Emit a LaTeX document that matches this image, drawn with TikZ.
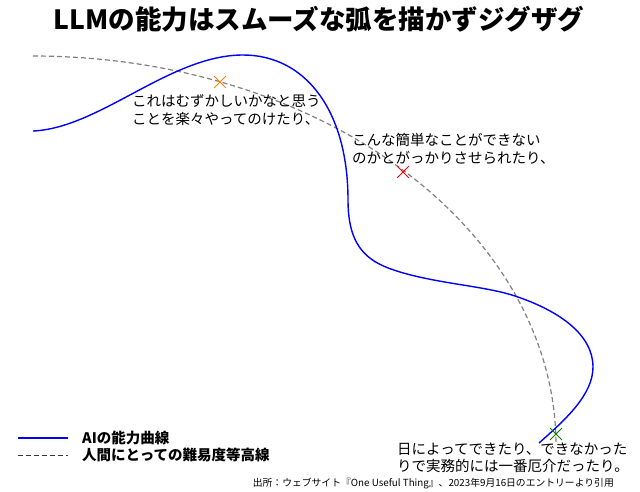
\documentclass[tikz,border=0pt]{standalone}
\usepackage{fontspec}
\setmainfont{Noto Sans CJK JP}
\usetikzlibrary{positioning,shapes.misc}

\begin{document}
\begin{tikzpicture}[
    x=1pt, y=-1pt,
    note/.style={anchor=west, align=left, inner sep=0pt,
      font=\fontsize{14.5}{17.5}\selectfont},
    legendtext/.style={anchor=west, inner sep=0pt,
      font=\fontsize{14.5}{17.5}\selectfont\bfseries},
    crossmark/.style={draw, cross out, minimum size=11pt, inner sep=0pt, line width=0.8pt},
    ai/.style={draw=blue, line width=1.4pt},
    level/.style={draw=gray, line width=1.2pt, dash pattern=on 5pt off 3pt}
  ]
    \useasboundingbox (0,0) rectangle (640,491);

    \node[font=\fontsize{26.5}{30}\selectfont\bfseries] (title) at (319,19)
      {LLMの能力はスムーズな弧を描かずジグザグ};

    \draw[level] plot[domain=90:0, samples=80]
      ({33+523*cos(\x)}, {445-389*sin(\x)});

    \draw[ai] (33,131) .. controls (100,128) and (170,55) .. (243,55)
      .. controls (305,55) and (348,110) .. (348,200)
      .. controls (348,250) and (370,263) .. (400,272)
      .. controls (440,284) and (485,286) .. (515,296)
      .. controls (560,311) and (593,335) .. (593,367)
      .. controls (593,395) and (565,420) .. (539,443);

    \node[crossmark, draw=orange] (easy) at (220,82) {};
    \node[crossmark, draw=red] (hard) at (403,172) {};
    \node[crossmark, draw=green!50!black] (luck) at (556,434) {};

    \node[note] (easytext) at (132,110)
      {これはむずかしいかなと思う\\ことを楽々やってのけたり、};
    \node[note] (hardtext) at (352,149)
      {こんな簡単なことができない\\のかとがっかりさせられたり、};
    \node[note] (lucktext) at (397,458)
      {日によってできたり、できなかった\\りで実務的には一番厄介だったり。};

    \node[legendtext] (ailabel) at (82,438) {AIの能力曲線};
    \node[legendtext, below=3pt of ailabel.south west, anchor=north west]
      (levellabel) {人間にとっての難易度等高線};
    \draw[ai, line width=1.1pt] ([xshift=-64pt]ailabel.west) -- ([xshift=-14pt]ailabel.west);
    \draw[level, draw=black!80] ([xshift=-64pt]levellabel.west) -- ([xshift=-14pt]levellabel.west);

    \node[anchor=east, inner sep=0pt, font=\fontsize{9.8}{11}\selectfont] (source)
      at (614,484) {出所：ウェブサイト『One Useful Thing』、2023年9月16日のエントリーより引用};
  \end{tikzpicture}
\end{document}
